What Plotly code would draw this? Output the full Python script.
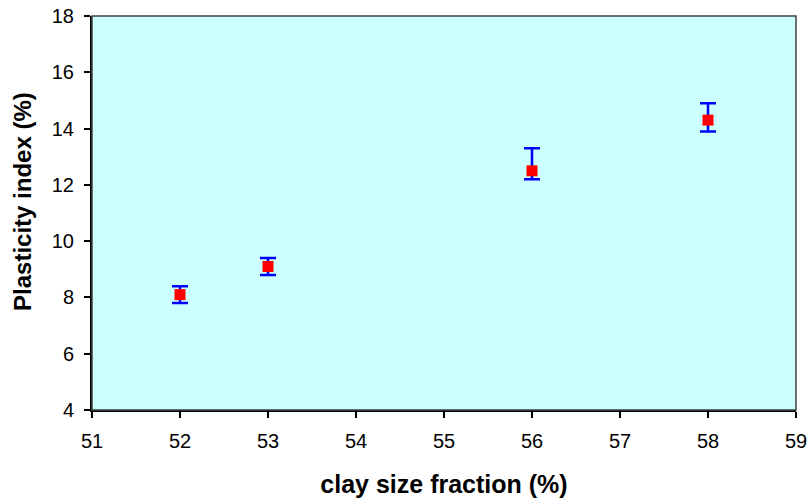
import plotly.graph_objects as go

clay = [52, 53, 56, 58]
pi = [8.1, 9.1, 12.5, 14.3]
err_plus = [0.3, 0.3, 0.8, 0.6]
err_minus = [0.3, 0.3, 0.3, 0.4]

fig = go.Figure()
fig.add_trace(go.Scatter(
    x=clay, y=pi, mode="markers",
    marker=dict(symbol="square", size=11, color="#FF0000", line=dict(width=0)),
    error_y=dict(type="data", symmetric=False, array=err_plus, arrayminus=err_minus,
                 color="#0000FF", thickness=2.5, width=8),
    showlegend=False,
))

font = "Liberation Sans, Arial, sans-serif"
tickfont = dict(family=font, size=20, color="black")
fig.update_layout(
    width=809, height=498,
    margin=dict(l=92, r=13, t=16, b=88),
    paper_bgcolor="white", plot_bgcolor="#CCFFFF",
    font=dict(family=font, size=19, color="black"),
    xaxis=dict(range=[51, 59], dtick=1, tick0=51, ticks="outside", ticklen=6,
               tickwidth=2, tickcolor="black", ticklabelstandoff=6, automargin=False,
               tickfont=tickfont,
               showline=True, linecolor="black", linewidth=2, mirror=False,
               showgrid=False, zeroline=False,
               title=dict(text="<b>clay size fraction (%)</b>", font=dict(size=25), standoff=25)),
    yaxis=dict(range=[4, 18], dtick=2, tick0=4, ticks="outside", ticklen=6,
               tickwidth=2, tickcolor="black", ticklabelstandoff=6, automargin=False,
               tickfont=tickfont,
               showline=True, linecolor="black", linewidth=2, mirror=False,
               showgrid=False, zeroline=False),
    annotations=[dict(text="<b>Plasticity index (%)</b>", textangle=-90,
                      xref="paper", yref="paper", x=-69/704, y=0.528,
                      xanchor="center", yanchor="middle", showarrow=False,
                      font=dict(size=24))],
    shapes=[dict(type="rect", xref="paper", yref="paper", x0=0, x1=1, y0=0, y1=1,
                 line=dict(color="#404040", width=1.5), layer="above")],
)
fig.write_html("out.html")
